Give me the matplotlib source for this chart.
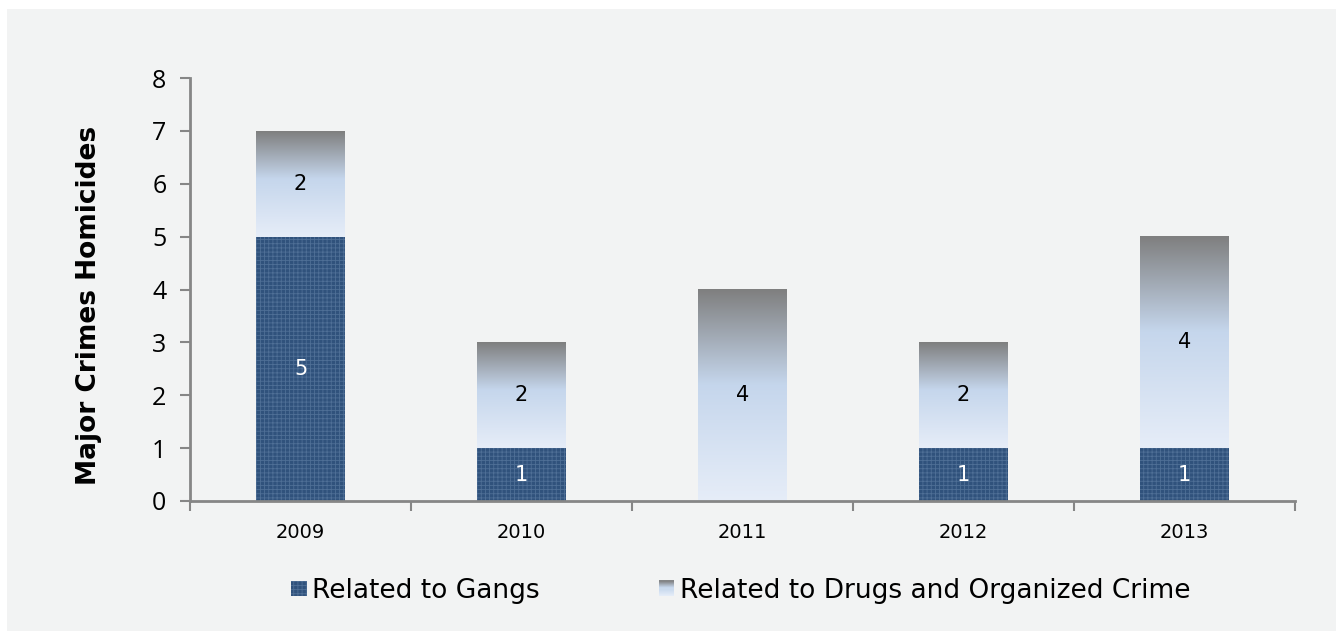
import matplotlib
import numpy as np

matplotlib.use('Agg')
import matplotlib.pyplot as plt
from matplotlib.colors import LinearSegmentedColormap
from matplotlib.legend_handler import HandlerBase
from matplotlib.patches import Rectangle

years = ['2009', '2010', '2011', '2012', '2013']
gangs = [5, 1, 0, 1, 1]
drugs = [2, 2, 4, 2, 4]

GANG_COLOR = '#30527c'
GANG_HATCH = '#4f6f96'
grad = LinearSegmentedColormap.from_list(
    'drug', [(0.0, '#7f7f7f'), (0.45, '#c5d6ec'), (1.0, '#e6edf8')])

plt.rcParams['hatch.linewidth'] = 0.6


class GradientHandler(HandlerBase):
    def create_artists(self, legend, orig_handle, xdescent, ydescent,
                       width, height, fontsize, trans):
        side = height * 0.85
        x0 = xdescent + width - side
        y0 = -ydescent - (side - height) / 2
        n = 14
        arts = []
        for i in range(n):
            c = grad(1 - (i + 0.5) / n)
            arts.append(Rectangle((x0, y0 + i * side / n), side, side / n + 0.2,
                                  facecolor=c, edgecolor='none', transform=trans))
        return arts


class SquareHandler(HandlerBase):
    def create_artists(self, legend, orig_handle, xdescent, ydescent,
                       width, height, fontsize, trans):
        side = height * 0.85
        x0 = xdescent + width - side
        y0 = -ydescent - (side - height) / 2
        r = Rectangle((x0, y0), side, side, facecolor=GANG_COLOR,
                      edgecolor=GANG_HATCH, hatch='++++', lw=0, transform=trans)
        return [r]


fig = plt.figure(figsize=(13.36, 6.31), dpi=100)
fig.patch.set_facecolor('white')
fig.patches.append(Rectangle((7 / 1336, 0), 1, 1 - 9 / 631, transform=fig.transFigure,
                             facecolor='#f2f3f3', edgecolor='none', zorder=-10))

ax = fig.add_axes([190 / 1336, 1 - 501 / 631, 1105 / 1336, 423 / 631])
ax.set_facecolor('none')

x = np.arange(len(years))
w = 0.4
ax.bar(x, gangs, w, color=GANG_COLOR, edgecolor=GANG_HATCH, hatch='++++', lw=0, zorder=2)

for xi, g, d in zip(x, gangs, drugs):
    img = np.linspace(0, 1, 256).reshape(-1, 1)
    ax.imshow(img, cmap=grad, aspect='auto', interpolation='bilinear',
              extent=[xi - w / 2, xi + w / 2, g, g + d], origin='upper', zorder=2)
    if g > 0:
        ax.text(xi, g / 2, str(g), ha='center', va='center', color='white', fontsize=15)
    ax.text(xi, g + d / 2, str(d), ha='center', va='center', color='black', fontsize=15)

ax.set_xlim(-0.5, 4.5)
ax.set_ylim(0, 8)

for s in ['top', 'right']:
    ax.spines[s].set_visible(False)
for s in ['left', 'bottom']:
    ax.spines[s].set_color('#868686')
    ax.spines[s].set_linewidth(2)

ax.set_yticks(range(9))
ax.set_yticklabels([str(i) for i in range(9)], fontsize=18, family='Open Sans')
ax.tick_params(axis='y', length=7, width=1.5, color='#868686', pad=10)

ax.set_xticks(np.arange(-0.5, 5, 1))
ax.set_xticklabels([])
ax.set_xticks(x, minor=True)
ax.set_xticklabels(years, minor=True, fontsize=14)
ax.tick_params(axis='x', which='major', length=7, width=1.5, color='#868686')
ax.tick_params(axis='x', which='minor', length=0, pad=16)

ax.set_ylabel('Major Crimes Homicides', fontsize=19, fontweight='bold')
ax.yaxis.set_label_coords(-0.08, 0.463)

h1 = Rectangle((0, 0), 1, 1)
h2 = Rectangle((0, 0), 1, 1)
ax.legend([h1, h2], ['Related to Gangs', 'Related to Drugs and Organized Crime'],
          handler_map={h1: SquareHandler(), h2: GradientHandler()},
          loc='center', bbox_to_anchor=(0.497, -0.212), ncol=2, frameon=False,
          fontsize=19, handlelength=0.7, handletextpad=0.2, columnspacing=4.4)

fig.savefig('out.png', dpi=100)
